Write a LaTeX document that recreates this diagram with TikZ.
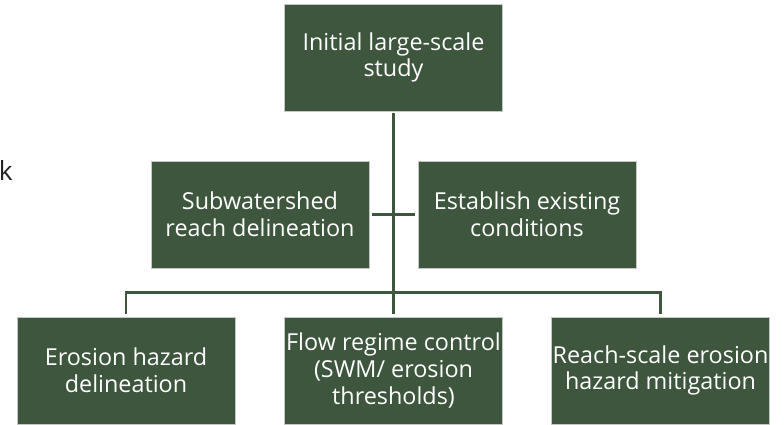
\documentclass[tikz,border=0pt]{standalone}
\usepackage{fontspec}
\setmainfont{Open Sans}
\definecolor{boxgreen}{RGB}{62,85,62}
\definecolor{textgrey}{RGB}{34,34,34}
\tikzset{
    stage/.style={draw=gray!45, line width=0.5pt, fill=boxgreen, text=white,
        minimum width=4.36cm, minimum height=2.14cm, inner sep=0pt, align=center,
        font=\fontsize{13.3}{15.2}\selectfont},
    link/.style={draw=boxgreen, line width=1.5pt}
}
\begin{document}
\begin{tikzpicture}

        \useasboundingbox (0,0) rectangle (15.68,8.48);

        %Top layer
        \node[stage] (study) at (7.87,7.33) {Initial large-scale\\study};

        %Layer 1
        %left
        \node[stage] (subwater) at (5.20,4.19) {Subwatershed\\reach delineation};
        %right
        \node[stage] (existing) at (10.54,4.19) {Establish existing\\conditions};

        %Layer 2
        \node[stage] (hazard) at (2.52,1.07) {Erosion hazard\\delineation};
        \node[stage] (flow) at (7.87,1.07) {Flow regime control\\(SWM/ erosion\\thresholds)};
        \node[stage] (mitigate) at (13.21,1.07) {Reach-scale erosion\\hazard mitigation};

        %cut off text at the left edge
        \node[anchor=base west, inner sep=0pt, text=textgrey,
            font=\fontsize{15}{18}\selectfont] (cutoff) at (-0.03,4.88) {k};

        %Edges
        \coordinate (bus) at (7.87,2.63);

        \draw[link] ([yshift=-0.04cm]study.south) -- (bus);

        \draw[link, shorten <=0.06cm, shorten >=0.06cm] (subwater.east) -- (existing.west);

        \draw[link] ([yshift=0.06cm]hazard.north) |- (bus) -| ([yshift=0.06cm]mitigate.north);

        \draw[link] (bus) -- ([yshift=0.06cm]flow.north);

\end{tikzpicture}
\end{document}
